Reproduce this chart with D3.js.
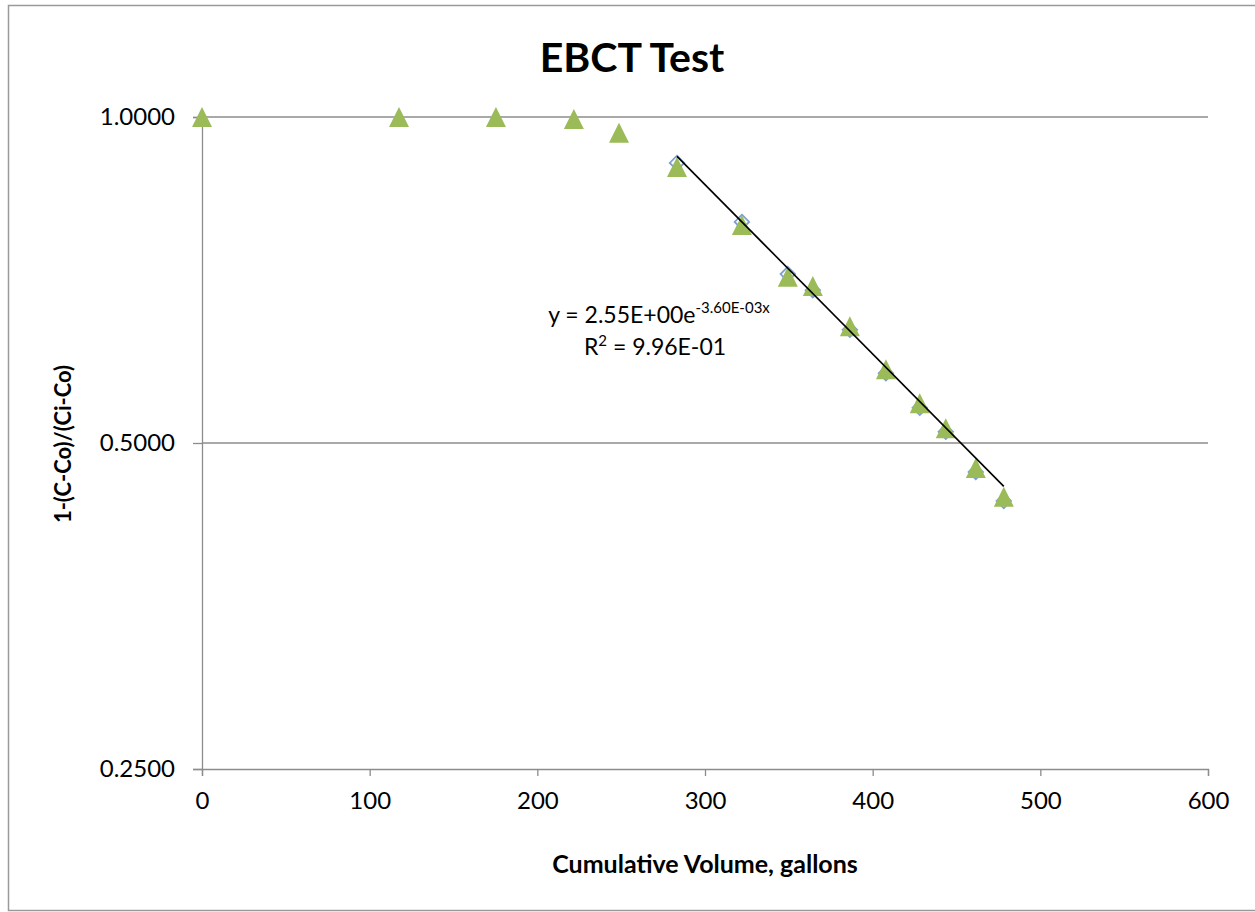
<!DOCTYPE html>
<html>
<head>
<meta charset="utf-8">
<script src="https://cdn.jsdelivr.net/npm/d3@7"></script>
<style>
  body { margin: 0; background: #fff; }
  svg text { font-family: Lato, 'Open Sans', sans-serif; fill: #000; }
</style>
</head>
<body>
<svg id="chart" width="1255" height="912"></svg>
<script>
// measured series (triangles)
const volume = [0, 117.5, 175.3, 221.8, 248.7, 283.3, 322, 349.4, 364.3, 386.4, 407.9, 428.1, 443.6, 461.5, 478.2]
const ratio = [1.0, 1.0, 1.0, 0.996, 0.967, 0.899, 0.795, 0.712, 0.698, 0.641, 0.585, 0.544, 0.516, 0.474, 0.446]

// points used for the fit (diamonds, mostly hidden under triangles)
const fitVolume = [283.3, 322, 349.4, 364.3, 386.4, 407.9, 428.1, 443.6, 461.5, 478.2]
const fitRatio = [0.907, 0.800, 0.716, 0.692, 0.636, 0.580, 0.539, 0.512, 0.470, 0.442]

// exponential trendline y = a * e^(b x)
const fitA = 2.55
const fitB = -0.0036

const xTicks = [0, 100, 200, 300, 400, 500, 600]
const yTicks = [0.25, 0.5, 1.0]

let svg = d3.select('#chart')
let margin = {top: 117, right: 47, bottom: 143, left: 202}
let width = 1255 - margin.left - margin.right
let height = 912 - margin.top - margin.bottom

// chart border
svg.append('rect')
  .attr('x', 8.5).attr('y', 5.5)
  .attr('width', 1260).attr('height', 905)
  .attr('fill', 'none')
  .attr('stroke', '#9a9a9a')
  .attr('stroke-width', 1.5)

let x = d3.scaleLinear().domain([0, 600]).range([0, width])
let y = d3.scaleLog().base(2).domain([0.25, 1]).range([height, 0])

let g = svg.append('g')
  .attr('transform', 'translate(' + margin.left + ',' + margin.top + ')')

// horizontal gridlines
g.append('g')
  .selectAll('line')
  .data(yTicks.slice(1))
  .join('line')
    .attr('x1', 0).attr('x2', width)
    .attr('y1', (d) => y(d)).attr('y2', (d) => y(d))
    .attr('stroke', '#8c8c8c')
    .attr('stroke-width', 1.3)

// y axis
let yAxis = g.append('g')
  .call(d3.axisLeft(y).tickValues(yTicks).tickFormat(d3.format('.4f')).tickSize(9).tickPadding(18))
yAxis.selectAll('.domain, line').attr('stroke', '#8c8c8c').attr('stroke-width', 1.3)
yAxis.selectAll('text').attr('font-size', 24).attr('font-family', 'Lato')

// x axis
let xAxis = g.append('g')
  .attr('transform', 'translate(0,' + height + ')')
  .call(d3.axisBottom(x).tickValues(xTicks).tickSize(7).tickPadding(16))
xAxis.selectAll('.domain, line').attr('stroke', '#8c8c8c').attr('stroke-width', 1.3)
xAxis.selectAll('text').attr('font-size', 24).attr('font-family', 'Lato')

// bounding-box centred triangle, like the spreadsheet marker
const triangle = {
  draw (ctx, size) {
    let h = Math.sqrt(size)
    ctx.moveTo(0, -h / 2)
    ctx.lineTo(h / 2, h / 2)
    ctx.lineTo(-h / 2, h / 2)
    ctx.closePath()
  }
}
const diamond = {
  draw (ctx, size) {
    let r = Math.sqrt(size) / 2
    ctx.moveTo(0, -r)
    ctx.lineTo(r, 0)
    ctx.lineTo(0, r)
    ctx.lineTo(-r, 0)
    ctx.closePath()
  }
}

// fit points
g.append('g')
  .selectAll('path')
  .data(d3.zip(fitVolume, fitRatio))
  .join('path')
    .attr('transform', (d) => 'translate(' + x(d[0]) + ',' + y(d[1]) + ')')
    .attr('d', d3.symbol().type(diamond).size(210))
    .attr('fill', '#fff')
    .attr('stroke', '#7d9fd3')
    .attr('stroke-width', 1.8)

// measured points
g.append('g')
  .selectAll('path')
  .data(d3.zip(volume, ratio))
  .join('path')
    .attr('transform', (d) => 'translate(' + x(d[0]) + ',' + y(d[1]) + ')')
    .attr('d', d3.symbol().type(triangle).size(400))
    .attr('fill', '#9bbb59')

// trendline over the fit range
let fitRange = d3.extent(fitVolume)
let trend = d3.line()
  .x((d) => x(d))
  .y((d) => y(fitA * Math.exp(fitB * d)))
g.append('path')
  .datum(fitRange)
  .attr('d', trend)
  .attr('fill', 'none')
  .attr('stroke', '#000')
  .attr('stroke-width', 1.6)

// trendline label
let eq = g.append('text')
  .attr('x', 659 - margin.left)
  .attr('y', 323 - margin.top)
  .attr('text-anchor', 'middle')
  .attr('font-size', 23)
eq.append('tspan').text('y = 2.55E+00e')
eq.append('tspan').attr('dy', -10).attr('font-size', 15).text('-3.60E-03x')

let r2 = g.append('text')
  .attr('x', 655 - margin.left)
  .attr('y', 355 - margin.top)
  .attr('text-anchor', 'middle')
  .attr('font-size', 23)
r2.append('tspan').text('R')
r2.append('tspan').attr('dy', -9).attr('font-size', 15).text('2')
r2.append('tspan').attr('dy', 9).text(' = 9.96E-01')

// titles
svg.append('text')
  .attr('x', 632).attr('y', 72)
  .attr('text-anchor', 'middle')
  .attr('font-size', 41)
  .attr('font-weight', 'bold')
  .text('EBCT Test')

svg.append('text')
  .attr('x', 705).attr('y', 873)
  .attr('text-anchor', 'middle')
  .attr('font-size', 25)
  .attr('font-weight', 'bold')
  .text('Cumulative Volume, gallons')

svg.append('text')
  .attr('transform', 'translate(71,444) rotate(-90)')
  .attr('text-anchor', 'middle')
  .attr('font-size', 22)
  .attr('font-weight', 'bold')
  .text('1-(C-Co)/(Ci-Co)')
</script>
</body>
</html>
